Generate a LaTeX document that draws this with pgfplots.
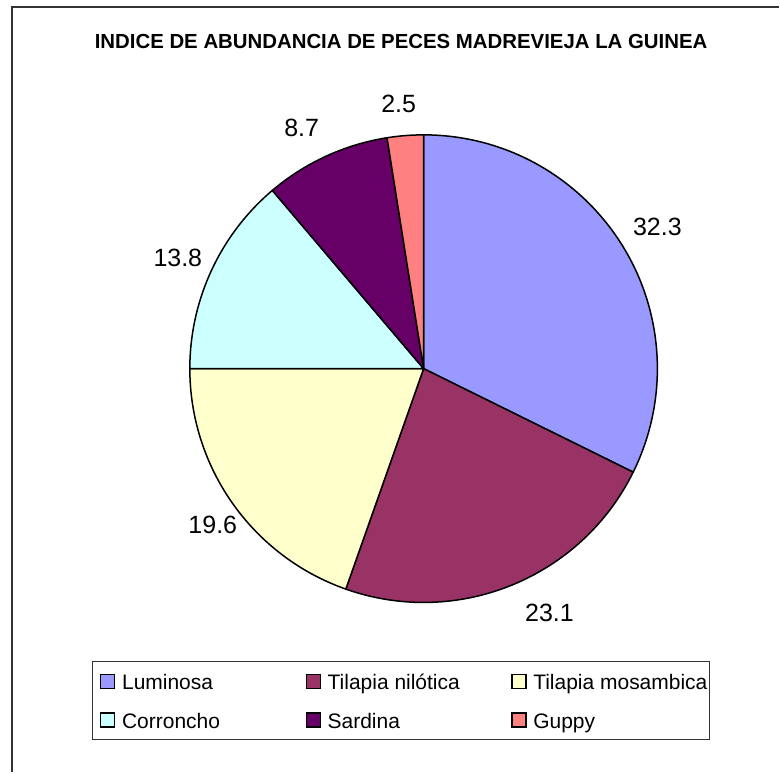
\documentclass[border=0pt]{standalone}
\usepackage{fontspec}
\setmainfont{Liberation Sans}
\usepackage{pgfplots}
\usepackage{pgfplotstable}
\pgfplotsset{compat=1.18}
\definecolor{cLum}{HTML}{9999FF}
\definecolor{cNil}{HTML}{993366}
\definecolor{cMos}{HTML}{FFFFCC}
\definecolor{cCor}{HTML}{CCFFFF}
\definecolor{cSar}{HTML}{660066}
\definecolor{cGup}{HTML}{FF8080}
\newcommand\lblfont{\fontsize{25pt}{30pt}\selectfont}
\newcommand\legentry[1]{\makebox[176pt][l]{\rule[-8pt]{0pt}{26pt}#1}}
% value = percentage, lx/ly = label centre
\pgfplotstableread[col sep=comma]{
name,value,lx,ly,col
Luminosa,32.3,658,546,cLum
Tilapia nilotica,23.1,550,159.5,cNil
Tilapia mosambica,19.6,213,248,cMos
Corroncho,13.8,178,515,cCor
Sardina,8.7,302,645,cSar
Guppy,2.5,399,668.5,cGup
}\piedata
\begin{document}
\begin{tikzpicture}
\begin{axis}[
  scale only axis, width=780pt, height=773pt,
  xmin=0, xmax=780, ymin=0, ymax=773,
  hide axis, clip=false,
  legend columns=3,
  legend cell align=left,
  legend image code/.code={%
    \path (0pt,0pt) (29pt,0pt);
    \draw[#1,draw=black,line width=1.4pt] (8pt,-7pt) rectangle (22pt,7pt);},
  legend style={at={(0.11795,0.14360)}, anchor=north west,
    draw=black!80, line width=0.8pt,
    inner xsep=0pt, inner ysep=10pt, /tikz/row sep=19pt,
    nodes={inner sep=0pt},
    /tikz/every odd column/.style={column sep=0pt},
    /tikz/every even column/.style={column sep=0pt},
    font=\fontsize{21pt}{25pt}\selectfont},
]
\path (axis cs:0,0) rectangle (axis cs:780,773);
\draw[line width=1.5pt, black!80] (axis cs:12,0) -- (axis cs:12,766) -- (axis cs:780,766);
\node[font=\bfseries\fontsize{20.4pt}{24pt}\selectfont, anchor=base, inner sep=0pt]
  at (axis cs:401.5,724) {INDICE DE ABUNDANCIA DE PECES MADREVIEJA LA GUINEA};
\def\cum{0}
\pgfplotsforeachungrouped \i in {0,...,5}{%
  \pgfplotstablegetelem{\i}{value}\of\piedata \let\sval\pgfplotsretval
  \pgfplotstablegetelem{\i}{lx}\of\piedata \let\slx\pgfplotsretval
  \pgfplotstablegetelem{\i}{ly}\of\piedata \let\sly\pgfplotsretval
  \pgfplotstablegetelem{\i}{col}\of\piedata \let\scol\pgfplotsretval
  \pgfmathsetmacro\sa{90-3.6*\cum}%
  \pgfmathsetmacro\ea{90-3.6*(\cum+\sval)}%
  \edef\tmp{\noexpand\filldraw[fill=\scol,draw=black,line width=1.5pt,line join=round]
     (axis cs:424,404) -- ++(\sa:234pt) arc[start angle=\sa,end angle=\ea,radius=234pt] -- cycle;
     \noexpand\node[inner sep=0pt,font=\noexpand\lblfont] at (axis cs:\slx,\sly) {\sval};}%
  \tmp
  \pgfmathsetmacro\cum{\cum+\sval}%
}
\addlegendimage{fill=cLum}\addlegendentry{\legentry{Luminosa}}
\addlegendimage{fill=cNil}\addlegendentry{\legentry{Tilapia nilótica}}
\addlegendimage{fill=cMos}\addlegendentry{\legentry{Tilapia mosambica}}
\addlegendimage{fill=cCor}\addlegendentry{\legentry{Corroncho}}
\addlegendimage{fill=cSar}\addlegendentry{\legentry{Sardina}}
\addlegendimage{fill=cGup}\addlegendentry{\legentry{Guppy}}
\end{axis}
\end{tikzpicture}
\end{document}
